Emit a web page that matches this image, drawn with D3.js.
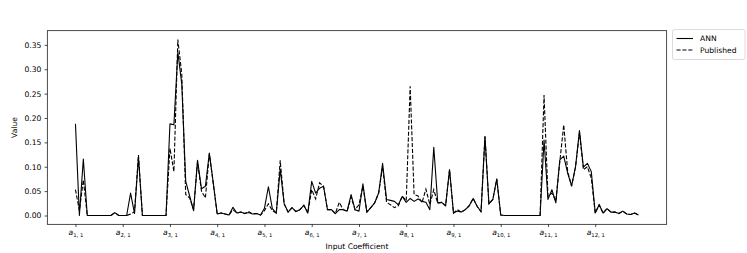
<!DOCTYPE html>
<html><head><meta charset="utf-8">
<script src="https://cdn.jsdelivr.net/npm/d3@7"></script>
<style>body{margin:0;background:#fff}svg{display:block;font-family:"DejaVu Sans",sans-serif}</style>
</head><body><div id="chart"></div>
<script>
const groupCount = 12;
const perGroup = 12;
const tickLabels = ["1, 1","2, 1","3, 1","4, 1","5, 1","6, 1","7, 1","8, 1","9, 1","10, 1","11, 1","12, 1"];
const yTicks = [0.00,0.05,0.10,0.15,0.20,0.25,0.30,0.35];
const seriesNames = ["ANN","Published"];
const ann = [
0.188,0,0.116,0,0,0,0,0,0,0,0.006,0,
0,0,0.046,0.004,0.12,0,0,0,0,0,0,0,
0.188,0.186,0.335,0.27,0.07,0.04,0.01,0.113,0.055,0.06,0.128,0.067,
0.003,0.005,0.003,0.001,0.017,0.005,0.007,0.004,0.006,0.003,0.004,0.001,
0.015,0.059,0.014,0.005,0.095,0.024,0.007,0.016,0.008,0.012,0.021,0.005,
0.07,0.046,0.056,0.06,0.012,0.012,0.004,0.012,0.012,0.009,0.043,0.012,
0.009,0.065,0.007,0.016,0.026,0.046,0.107,0.033,0.031,0.029,0.022,0.039,
0.027,0.035,0.029,0.034,0.029,0.027,0.012,0.14,0.026,0.027,0.02,0.094,
0.005,0.009,0.007,0.012,0.02,0.035,0.019,0.008,0.162,0.024,0.033,0.075,
0.001,0,0,0,0,0,0,0,0,0,0,0.155,
0.033,0.053,0.026,0.114,0.122,0.087,0.061,0.1,0.174,0.099,0.107,0.09,
0.005,0.022,0.005,0.014,0.007,0.007,0.004,0.009,0.003,0.002,0.005,0.001
];
const published = [
0.053,0.01,0.073,0,0,0,0,0,0,0,0.006,0,
0,0,0.003,0.008,0.124,0,0,0,0,0,0,0,
0.138,0.09,0.361,0.29,0.043,0.036,0.012,0.11,0.05,0.036,0.127,0.065,
0.003,0.005,0.003,0.001,0.012,0.005,0.007,0.004,0.008,0.003,0.004,0.001,
0.01,0.024,0.01,0.005,0.113,0.024,0.007,0.016,0.008,0.012,0.021,0.005,
0.053,0.034,0.067,0.06,0.012,0.012,0.004,0.027,0.012,0.009,0.038,0.012,
0.022,0.06,0.007,0.016,0.026,0.046,0.1,0.027,0.022,0.016,0.02,0.04,
0.03,0.265,0.043,0.04,0.026,0.054,0.022,0.053,0.025,0.027,0.02,0.094,
0.005,0.012,0.007,0.012,0.02,0.035,0.019,0.008,0.162,0.024,0.033,0.075,
0.001,0,0,0,0,0,0,0,0,0,0,0.247,
0.04,0.046,0.03,0.11,0.186,0.09,0.06,0.1,0.17,0.094,0.1,0.077,
0.005,0.022,0.005,0.014,0.007,0.007,0.004,0.009,0.003,0.002,0.005,0.001
];

const W = 747, H = 253;
const L = 47.3, R = 666.7, T = 30.7, B = 224.3;
const n = ann.length;
const xPad = (n - 1) * 0.05;
const yMax = Math.max(d3.max(ann), d3.max(published));
const yPad = yMax * 0.05;
const x = d3.scaleLinear().domain([-xPad, n - 1 + xPad]).range([L, R]);
const y = d3.scaleLinear().domain([-yPad, yMax + yPad]).range([B, T]);

const svg = d3.select("#chart").append("svg").attr("width", W).attr("height", H);
const fs = 7.6;

// lines
const line = d3.line().x((d, i) => x(i)).y(d => y(d));
svg.append("path").datum(ann).attr("d", line).attr("fill", "none")
  .attr("stroke", "#000").attr("stroke-width", 1.1).attr("stroke-linejoin", "round");
svg.append("path").datum(published).attr("d", line).attr("fill", "none")
  .attr("stroke", "#000").attr("stroke-width", 1.1).attr("stroke-dasharray", "4.1,1.8");

// y axis
const yAxis = d3.axisLeft(y).tickValues(yTicks).tickFormat(d3.format(".2f")).tickSize(2.7).tickPadding(3.2);
const gy = svg.append("g").attr("transform", `translate(${L},0)`).call(yAxis);
gy.select(".domain").remove();
gy.selectAll("text").attr("font-size", fs).attr("font-family", "DejaVu Sans").attr("fill", "#000");
gy.selectAll("line").attr("stroke", "#000").attr("stroke-width", 0.7);

// x axis
const tickIdx = d3.range(groupCount).map(g => g * perGroup);
const xAxis = d3.axisBottom(x).tickValues(tickIdx).tickFormat("").tickSize(2.7);
const gx = svg.append("g").attr("transform", `translate(0,${B})`).call(xAxis);
gx.select(".domain").remove();
gx.selectAll("line").attr("stroke", "#000").attr("stroke-width", 0.7);
gx.selectAll(".tick").each(function(d, i) {
  const t = d3.select(this).append("text").attr("y", 11.2).attr("text-anchor", "middle")
    .attr("font-size", fs).attr("font-family", "DejaVu Sans").attr("fill", "#000");
  t.append("tspan").attr("font-style", "italic").text("a");
  t.append("tspan").attr("font-size", fs * 0.7).attr("dy", 1.6).text(tickLabels[i]);
});

// frame
svg.append("rect").attr("x", L).attr("y", T).attr("width", R - L).attr("height", B - T)
  .attr("fill", "none").attr("stroke", "#000").attr("stroke-width", 0.7);

// axis labels
svg.append("text").attr("x", (L + R) / 2).attr("y", 249).attr("text-anchor", "middle")
  .attr("font-size", fs).attr("fill", "#000").text("Input Coefficient");
svg.append("text").attr("transform", `translate(16.5,${(T + B) / 2}) rotate(-90)`)
  .attr("text-anchor", "middle").attr("font-size", fs).attr("fill", "#000").text("Value");

// legend
const lg = svg.append("g").attr("transform", "translate(672.5,29.5)");
lg.append("rect").attr("width", 72.5).attr("height", 30).attr("rx", 2)
  .attr("fill", "#fff").attr("stroke", "#ccc").attr("stroke-width", 0.7);
seriesNames.forEach((s, i) => {
  const yy = 9 + i * 11.5;
  lg.append("line").attr("x1", 4).attr("x2", 20.5).attr("y1", yy).attr("y2", yy)
    .attr("stroke", "#000").attr("stroke-width", 1.1)
    .attr("stroke-dasharray", i === 1 ? "4.1,1.8" : null);
  lg.append("text").attr("x", 27.5).attr("y", yy + 2.8).attr("font-size", fs).attr("fill", "#000").text(s);
});
</script></body></html>
